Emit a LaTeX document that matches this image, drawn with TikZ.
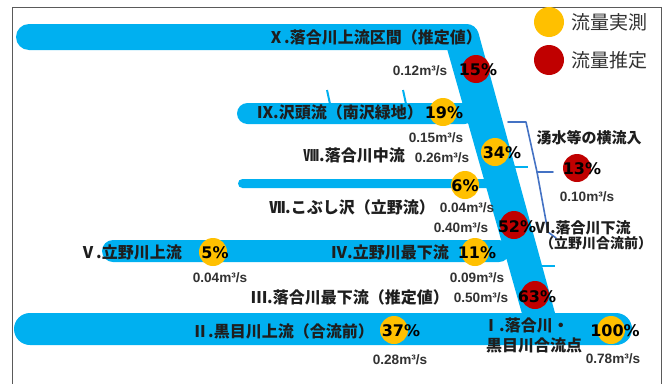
\documentclass[tikz,border=0pt]{standalone}
\usepackage{fontspec}
\newfontfamily\jp{Noto Sans CJK JP}
\newfontfamily\dv{DejaVu Sans}
\newfontfamily\ls{Liberation Sans}
\definecolor{river}{RGB}{0,176,240}
\definecolor{ylw}{RGB}{255,192,0}
\definecolor{rd}{RGB}{192,0,0}
\definecolor{brc}{RGB}{68,114,196}
\definecolor{txt}{RGB}{30,30,30}
\definecolor{flowc}{RGB}{50,50,50}
\definecolor{framec}{RGB}{90,90,90}
\begin{document}
\begin{tikzpicture}[x=1pt,y=-1pt,
  lab/.style={font=\jp\bfseries\fontsize{16}{16}\selectfont,text=txt,inner sep=0,anchor=base},
  labs/.style={font=\jp\bfseries\fontsize{15}{15}\selectfont,text=txt,inner sep=0,anchor=base},
  flow/.style={font=\ls\bfseries\fontsize{13.6}{14}\selectfont,text=flowc,inner sep=0,anchor=base},
  pct/.style={font=\dv\bfseries\fontsize{16}{16}\selectfont,text=black,inner sep=0,anchor=base},
  leg/.style={font=\jp\fontsize{19}{19}\selectfont,text=flowc,inner sep=0,anchor=base west},
  ycirc/.style={circle,fill=ylw,minimum size=28pt,inner sep=0},
  rcirc/.style={circle,fill=rd,minimum size=28pt,inner sep=0},
  bar/.style={fill=river},
  trib/.style={draw=river,line width=2pt},
  brace/.style={draw=brc,line width=1.6pt,line join=round,line cap=round}]
\useasboundingbox (0,0) rectangle (668,383);
\fill[white] (0,0) rectangle (668,383);
% frame
\draw[framec,line width=1pt] (12,390) -- (12,7) -- (661,7) -- (661,390);
% rivers
\fill[bar,rounded corners=13pt] (16,24) rectangle (470,50);
\fill[bar,rounded corners=9pt] (440,24) -- (476,24) -- (561,335) -- (528,335) -- cycle;
\fill[bar,rounded corners=16pt] (14,313) rectangle (632,345);
\fill[bar,rounded corners=10.5pt] (237,103) rectangle (475,124);
\fill[bar,rounded corners=4.5pt] (238,179) rectangle (492,188);
\fill[bar,rounded corners=11pt] (102,240) rectangle (510,262);
% tributaries / inflow ticks
\draw[trib] (327,90) -- (330,104);
\draw[trib] (403,90) -- (406,104);
\draw[trib] (513,167) -- (528,167);
\draw[trib] (540,266) -- (555,266);
% brace
\draw[brace] (508,122) -- (526,122) -- (537,172) -- (548,232) -- (556,238);
\draw[brace] (537,172) -- (553,172);
% circles
\node[rcirc] (c15) at (476,69) {};
\node[ycirc] (c19) at (443,112) {};
\node[ycirc] (c34) at (495,152) {};
\node[ycirc] (c6) at (465,185) {};
\node[rcirc] (c52) at (514,225) {};
\node[rcirc] (c13) at (577,168) {};
\node[ycirc] (c5) at (213,252) {};
\node[ycirc] (c11) at (475,252) {};
\node[rcirc] (c63) at (535,295) {};
\node[ycirc] (c37) at (394,330) {};
\node[ycirc] (c100) at (611,330) {};
\node[circle,fill=ylw,minimum size=30pt,inner sep=0] (cy) at (549,22) {};
\node[circle,fill=rd,minimum size=30pt,inner sep=0] (cr) at (549,60) {};
% legend
\node[leg] (ly) at (571,29) {流量実測};
\node[leg] (lr) at (571,67) {流量推定};
% labels
\node[lab] (tX) at (375,43) {Ⅹ.落合川上流区間（推定値）};
\node[lab] (tIX) at (340,118) {Ⅸ.沢頭流（南沢緑地）};
\node[lab] (tVIII) at (354,161) {Ⅷ.落合川中流};
\node[lab] (tVII) at (352,213) {Ⅶ.こぶし沢（立野流）};
\node[labs] (tVI) at (583,233) {Ⅵ.落合川下流};
\node[labs,font=\jp\bfseries\fontsize{14}{14}\selectfont] (tVIb) at (596,248) {（立野川合流前）};
\node[labs] (tin) at (589,143) {湧水等の横流入};
\node[lab] (tV) at (131,258) {Ⅴ.立野川上流};
\node[lab] (tIV) at (390,258) {Ⅳ.立野川最下流};
\node[lab] (tIII) at (350,303) {Ⅲ.落合川最下流（推定値）};
\node[lab] (tII) at (283,337) {Ⅱ.黒目川上流（合流前）};
\node[lab] (tIa) at (526,331) {Ⅰ.落合川・};
\node[lab] (tIb) at (534,351) {黒目川合流点};
% flows
\node[flow] (f15) at (420,75) {0.12m³/s};
\node[flow] (f19) at (436,142) {0.15m³/s};
\node[flow] (f34) at (442,162) {0.26m³/s};
\node[flow] (f6) at (467,212) {0.04m³/s};
\node[flow] (f52) at (461,232) {0.40m³/s};
\node[flow] (f13) at (587,201) {0.10m³/s};
\node[flow] (f5) at (220,282) {0.04m³/s};
\node[flow] (f11) at (477,282) {0.09m³/s};
\node[flow] (f63) at (481,302) {0.50m³/s};
\node[flow] (f37) at (400,364) {0.28m³/s};
\node[flow] (f100) at (613,363) {0.78m³/s};
% percentages
\node[pct] (p15) at (478,75) {15\%};
\node[pct] (p19) at (444,118) {19\%};
\node[pct] (p34) at (502,158) {34\%};
\node[pct] (p6) at (465,191) {6\%};
\node[pct] (p52) at (517,232) {52\%};
\node[pct] (p13) at (582,174) {13\%};
\node[pct] (p5) at (215,258) {5\%};
\node[pct] (p11) at (477,258) {11\%};
\node[pct] (p63) at (537,302) {63\%};
\node[pct] (p37) at (401,336) {37\%};
\node[pct] (p100) at (615,336) {100\%};
\end{tikzpicture}
\end{document}
